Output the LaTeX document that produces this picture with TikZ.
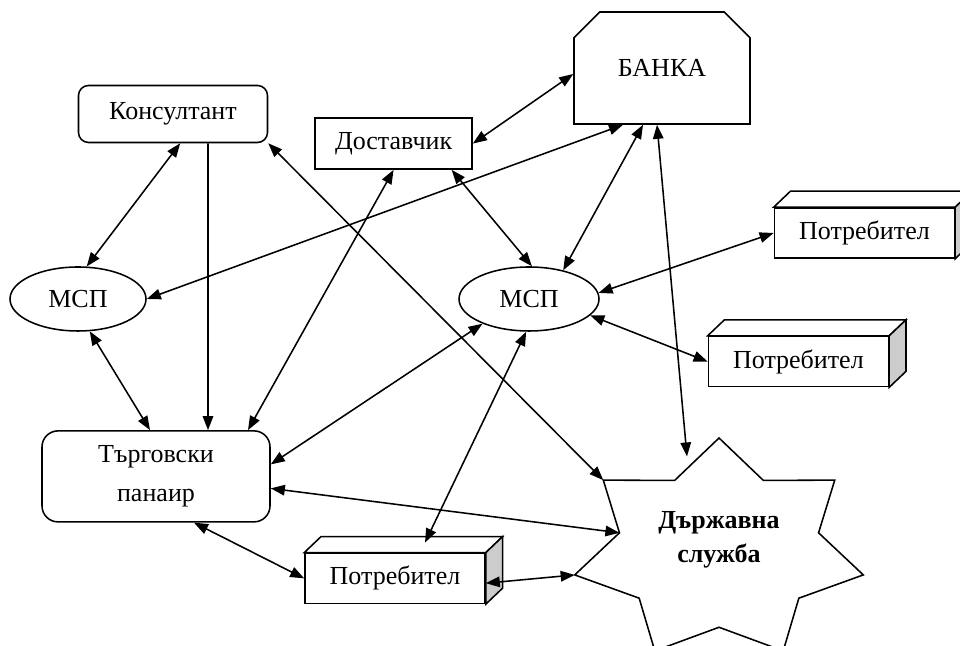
\documentclass[tikz,border=0pt]{standalone}
\usepackage{fontspec}
\setmainfont{Liberation Serif}
\usetikzlibrary{arrows.meta, calc, shapes.geometric, shapes.misc}

\tikzset{
  plainbox/.style={draw, rectangle, inner sep=0pt},
  roundbox/.style={draw, rectangle, rounded corners=0.25cm, inner sep=0pt},
  bankbox/.style={draw, chamfered rectangle, chamfered rectangle corners={north west, north east},
    chamfered rectangle xsep=0.45cm, chamfered rectangle ysep=0.43cm,
    minimum width=4.4cm, minimum height=2.8cm, inner sep=0pt},
  mspell/.style={draw, ellipse, minimum height=1.6cm, inner sep=0pt},
  potrbox/.style={draw, fill=white, rectangle, minimum width=4.5cm, minimum height=1.25cm, inner sep=0pt},
  biarrow/.style={<->, >={Triangle[length=10pt,width=7.5pt]}},
  oneway/.style={->, >={Triangle[length=10pt,width=7.5pt]}}
}

\begin{document}
\begin{tikzpicture}[line width=1.1pt, font=\fontsize{18.5}{24}\selectfont]
  \useasboundingbox (0,0) rectangle (24,16.15);

  % seven-point star
  \coordinate (dc) at (17.975,2.4);
  \foreach \i in {0,...,13} {
    \pgfmathsetmacro{\rr}{ifthenelse(mod(\i,2)==0,1,0.69)}
    \coordinate (s\i) at ($(dc)+({90+\i*360/14}:{3.7*\rr} and {2.8*\rr})$);
  }
  \draw (s0) \foreach \i in {1,...,13} {-- (s\i)} -- cycle;
  \node[font=\fontsize{18.5}{24}\selectfont\bfseries, align=center] (sluzhba) at (17.975,2.65) {Държавна\\служба};

  \node[roundbox, minimum width=4.725cm, minimum height=1.425cm] (kons) at (4.325,13.3) {Консултант};
  \node[plainbox, minimum width=3.925cm, minimum height=1.275cm] (dost) at (9.84,12.56) {Доставчик};
  \node[bankbox] (banka) at (16.55,14.45) {БАНКА};
  \node[mspell, minimum width=3.4cm] (msp1) at (1.95,8.675) {МСП};
  \node[mspell, minimum width=3.5cm] (msp2) at (13.225,8.675) {МСП};
  \node[potrbox] (potr1) at (21.61,10.325) {Потребител};
  \node[potrbox] (potr2) at (19.96,7.11) {Потребител};
  \node[potrbox] (potr3) at (9.875,1.69) {Потребител};
  \node[roundbox, rounded corners=0.4cm, minimum width=5.7cm, minimum height=2.275cm, align=center,
    font=\fontsize{18.5}{28}\selectfont] (targ) at (3.9,4.24) {Търговски\\панаир};

  % box depth
  \foreach \n in {potr1,potr2,potr3} {
    \draw[fill=white] (\n.north west) -- ++(0.42,0.4) -- ($(\n.north east)+(0.42,0.4)$) -- (\n.north east) -- cycle;
    \draw[fill=gray!40] (\n.north east) -- ++(0.42,0.4) -- ($(\n.south east)+(0.42,0.4)$) -- (\n.south east) -- cycle;
  }

  \draw[biarrow] ([xshift=0.18cm]kons.south) -- (msp1.75);
  \draw[oneway] ([xshift=0.875cm]kons.south) -- ([xshift=1.3cm]targ.north);
  \draw[biarrow] (kons.south east) -- (s2);
  \draw[biarrow] (dost.south) -- ([xshift=2.3cm]targ.north);
  \draw[biarrow] (msp1.-70) -- ([xshift=-0.15cm]targ.north);
  \draw[biarrow] ([xshift=-0.975cm]banka.south) -- (msp1.east);
  \draw[biarrow] ([yshift=-0.15cm]banka.west) -- (dost.east);
  \draw[biarrow] ([xshift=1.45cm]dost.south) -- (msp2.85);
  \draw[biarrow] ([xshift=-0.475cm]banka.south) -- (msp2.40);
  \draw[biarrow, shorten >=0.28cm] ([xshift=-0.125cm]banka.south) -- ($(s0)!0.7!(s1)$);
  \draw[biarrow] (potr1.west) -- (msp2.5);
  \draw[biarrow] (potr2.west) -- (msp2.-15);
  \draw[biarrow] (msp2.208) -- ([yshift=0.3cm]targ.east);
  \draw[biarrow] (msp2.-95) -- ($(potr3.north)+(0.75,0.25)$);
  \draw[biarrow] ([yshift=-0.3cm]targ.east) -- (s3);
  \draw[biarrow] ([xshift=0.95cm]targ.south) -- (potr3.west);
  \draw[biarrow] ([yshift=-0.12cm]potr3.east) -- (s4);
\end{tikzpicture}
\end{document}
